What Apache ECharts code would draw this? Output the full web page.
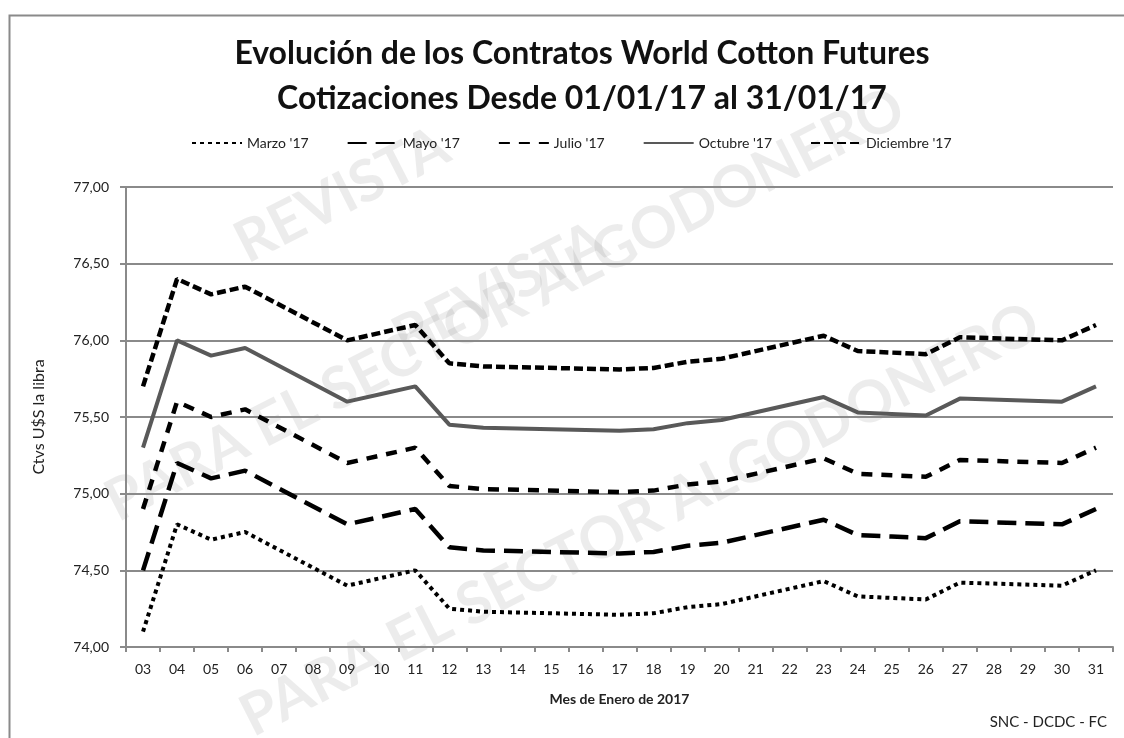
<!DOCTYPE html>
<html><head><meta charset="utf-8">
<script src="https://cdn.jsdelivr.net/npm/echarts@6/dist/echarts.min.js"></script>
<style>html,body{margin:0;padding:0;background:#fff}#c{width:1124px;height:738px}</style>
</head><body><div id="c"></div>
<script>
// Categories: days of January 2017
const days = ['03','04','05','06','07','08','09','10','11','12','13','14','15','16','17','18','19','20','21','22','23','24','25','26','27','28','29','30','31'];
// Series values (ctvs U$S / lb); null = no trading day
const marzo     = [74.10,74.80,74.70,74.75,null,null,74.40,74.45,74.50,74.25,74.23,null,null,null,74.21,74.22,74.26,74.28,null,null,74.43,74.33,74.32,74.31,74.42,null,null,74.40,74.50];
const mayo      = [74.50,75.20,75.10,75.15,null,null,74.80,74.85,74.90,74.65,74.63,null,null,null,74.61,74.62,74.66,74.68,null,null,74.83,74.73,74.72,74.71,74.82,null,null,74.80,74.90];
const julio     = [74.90,75.60,75.50,75.55,null,null,75.20,75.25,75.30,75.05,75.03,null,null,null,75.01,75.02,75.06,75.08,null,null,75.23,75.13,75.12,75.11,75.22,null,null,75.20,75.30];
const octubre   = [75.30,76.00,75.90,75.95,null,null,75.60,75.65,75.70,75.45,75.43,null,null,null,75.41,75.42,75.46,75.48,null,null,75.63,75.53,75.52,75.51,75.62,null,null,75.60,75.70];
const diciembre = [75.70,76.40,76.30,76.35,null,null,76.00,76.05,76.10,75.85,75.83,null,null,null,75.81,75.82,75.86,75.88,null,null,76.03,75.93,75.92,75.91,76.02,null,null,76.00,76.10];
const seriesNames = ["Marzo '17","Mayo '17","Julio '17","Octubre '17","Diciembre '17"];

const FONT = 'Lato, "Open Sans", sans-serif';
const chart = echarts.init(document.getElementById('c'));

function mk(name, data, color, width, type) {
  return {
    name, type: 'line', data, connectNulls: true, showSymbol: false, symbol: 'none',
    lineStyle: { color, width, type, cap: 'butt' }, itemStyle: { color },
    animation: false, z: 5
  };
}

const wmStyle = { fill: 'rgba(0,0,0,0.075)', font: 'bold 58px ' + FONT };
function wm(text, x, y) {
  return { type: 'text', x, y, rotation: 0.47, z: -1, silent: true,
    style: Object.assign({ text, textAlign: 'center', textVerticalAlign: 'middle' }, wmStyle) };
}

chart.setOption({
  animation: false,
  backgroundColor: '#fff',
  title: {
    text: 'Evolución de los Contratos World Cotton Futures\nCotizaciones Desde 01/01/17 al 31/01/17',
    left: 582, textAlign: 'center', top: 31, padding: 0,
    textStyle: { fontFamily: FONT, fontSize: 32, fontWeight: 'bold', color: '#111', lineHeight: 45 }
  },
  legend: {
    left: 186, top: 131, itemWidth: 50, itemHeight: 10, itemGap: 38,
    itemStyle: { opacity: 0 },
    textStyle: { fontFamily: FONT, fontSize: 14, color: '#222' },
    data: seriesNames
  },
  grid: { left: 126, right: 11, top: 187, bottom: 91 },
  xAxis: {
    type: 'category', data: days, boundaryGap: true,
    axisLine: { lineStyle: { color: '#8a8a8a', width: 2 } },
    axisTick: { show: true, length: 5, lineStyle: { color: '#8a8a8a', width: 2 } },
    axisLabel: { fontFamily: FONT, fontSize: 14, color: '#222', margin: 15 },
    name: 'Mes de Enero de 2017', nameLocation: 'middle', nameGap: 45,
    nameTextStyle: { fontFamily: FONT, fontSize: 14, fontWeight: 'bold', color: '#222' }
  },
  yAxis: {
    type: 'value', min: 74, max: 77, interval: 0.5,
    axisLine: { show: true, lineStyle: { color: '#8a8a8a', width: 2 } },
    axisTick: { show: true, length: 6, lineStyle: { color: '#8a8a8a', width: 2 } },
    axisLabel: { fontFamily: FONT, fontSize: 14, color: '#222', margin: 17,
      formatter: v => v.toFixed(2).replace('.', ',') },
    splitLine: { lineStyle: { color: '#8a8a8a', width: 2 } },
    name: 'Ctvs U$S la libra', nameLocation: 'middle', nameGap: 79, nameRotate: 90,
    nameTextStyle: { fontFamily: FONT, fontSize: 16, color: '#222' }
  },
  graphic: [
    { type: 'rect', left: 7, top: 13, shape: { width: 1130, height: 740 }, style: { fill: 'none', stroke: '#8a8a8a', lineWidth: 2 }, z: 0, silent: true },
    { type: 'text', x: 1107, y: 722, style: { text: 'SNC - DCDC - FC', font: '15px ' + FONT, fill: '#222', textAlign: 'right', textVerticalAlign: 'middle' } },
    wm('REVISTA', 342, 195),
    wm('PARA EL SECTOR ALGODONERO', 505, 305),
    wm('REVISTA', 500, 290),
    wm('PARA EL SECTOR ALGODONERO', 640, 520)
  ],
  series: [
    mk(seriesNames[0], marzo, '#000', 4, [4, 4]),
    mk(seriesNames[1], mayo, '#000', 4.5, [19, 9]),
    mk(seriesNames[2], julio, '#000', 4.5, [11, 9]),
    mk(seriesNames[3], octubre, '#595959', 4, 'solid'),
    mk(seriesNames[4], diciembre, '#000', 4.5, [9, 4])
  ]
});
</script>
</body></html>
